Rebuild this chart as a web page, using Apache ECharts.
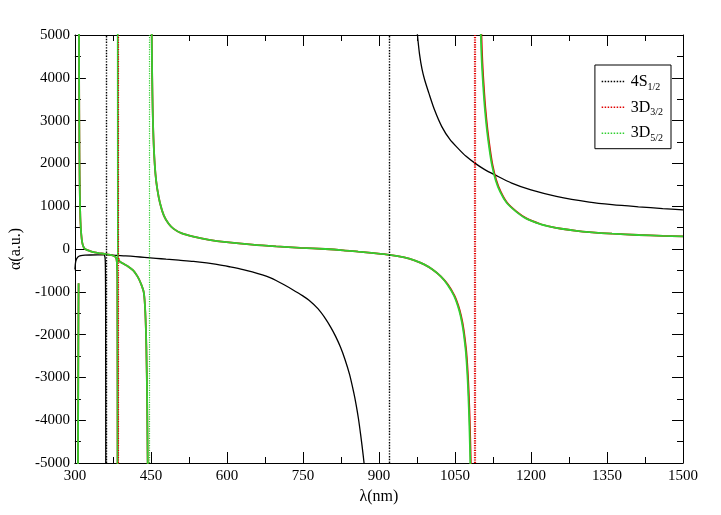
<!DOCTYPE html>
<html><head><meta charset="utf-8">
<script src="https://cdn.jsdelivr.net/npm/echarts@6/dist/echarts.min.js"></script>
<style>html,body{margin:0;padding:0;background:#fff}#c{width:721px;height:515px}</style>
</head><body><div id="c"></div><script>
// ---- data: [lambda (nm), alpha (a.u.)] per branch between poles ----
const xTicks = {min: 300, max: 1500, step: 150};
const yTicks = {min: -5000, max: 5000, step: 1000};
const seriesNames = ['4S1/2', '3D3/2', '3D5/2'];

// 4S1/2
const s12_a = [[300,-480],[300.7,-380],[301.5,-300],[303,-240],[305,-200],[308,-170],[312,-155],[320,-145],[330,-140],[345,-137],[355,-138],[358.5,-148],[360,-300],[360.6,-1200],[361,-6000]];
const s12_b = [[361.5,-130],[370,-140],[385,-150],[400,-160],[420,-178],[437,-195],[460,-218],[480,-238],[505,-262],[534,-290],[560,-325],[580,-360],[605,-415],[632,-480],[650,-535],[670,-605],[685,-670],[697,-735],[712,-830],[729,-945],[749,-1090],[762,-1200],[780,-1400],[794,-1620],[805,-1830],[814,-2030],[824,-2290],[833,-2580],[842,-2930],[850,-3340],[855,-3640],[859.5,-3960],[864,-4350],[869,-4830],[873,-5280],[877,-5850]];
const s12_c = [[974,5300],[976,5000],[980,4560],[985,4200],[990,3960],[998,3660],[1010,3240],[1024,2860],[1040,2560],[1057,2340],[1072,2165],[1090,2000],[1108,1860],[1129,1730],[1162,1540],[1200,1380],[1250,1230],[1315,1095],[1360,1035],[1412,985],[1460,945],[1500,915]];
const s12_poles = [361, 921];

// 3D5/2
const d52_a = [[305.8,-6000],[306.6,-3000],[307.0,-1500],[307.3,-800]];
const d52_b = [[307.8,6000],[308.3,4000],[308.8,2500],[309.3,1700],[310,1100],[311,650],[312.5,350],[314.5,150],[317,50],[320,0],[330,-50],[339,-80],[350,-100],[358.5,-115],[370,-140],[378,-170],[381,-200],[382.8,-300],[383.8,-700],[384.3,-6000]];
const d52_c = [[384.6,6000],[384.8,1500],[385.0,-200],[385.3,-280],[388,-290],[395,-340],[404,-400],[415,-500],[423.5,-640],[430,-800],[436,-1020],[439,-1500],[441,-2300],[442.5,-3500],[443.5,-4800],[444.5,-6000]];
const d52_d = [[450.8,6000],[451.5,5200],[452,4500],[453,3600],[454,3000],[456,2310],[459,1750],[462.6,1400],[468,1070],[475.6,780],[485,590],[495,470],[510,370],[534,290],[565,215],[599,160],[650,100],[697,60],[745,28],[794,0],[830,-30],[859,-62],[890,-95],[921,-135],[950,-195],[970,-265],[989,-360],[1005,-475],[1022,-640],[1035,-830],[1048,-1090],[1056,-1340],[1061,-1560],[1066,-1870],[1071,-2350],[1073,-2650],[1075,-3050],[1076.5,-3450],[1078,-3950],[1079.5,-4600],[1080.5,-5150],[1082,-6200]];
const d52_e = [[1099.5,6000],[1101,5000],[1103,4350],[1106,3750],[1109,3270],[1113,2790],[1118,2330],[1123,1960],[1130,1620],[1139,1340],[1152,1080],[1170,880],[1190,715],[1217,588],[1240,517],[1260,473],[1290,425],[1315,396],[1360,358],[1412,327],[1460,307],[1500,295]];
const d52_poles = [447.6];

// 3D3/2
const d32_a = [[305.8,-6000],[306.6,-3000],[307.0,-1500],[307.3,-800]];
const d32_b = [[307.8,6000],[308.3,4000],[308.8,2500],[309.3,1700],[310,1100],[311,650],[312.5,350],[314.5,150],[317,50],[320,0],[330,-50],[339,-80],[350,-100],[358.5,-115],[370,-140],[378,-170],[381,-200],[382.8,-300],[383.8,-700],[384.3,-6000]];
const d32_c = [[385.8,-210],[388,-290],[395,-340],[404,-400],[415,-500],[423.5,-640],[430,-800],[436,-1020],[439,-1500],[441,-2300],[442.5,-3500],[443.5,-4800],[444.5,-6000]];
const d32_d = [[450.8,6000],[451.5,5200],[452,4500],[453,3600],[454,3000],[456,2310],[459,1750],[462.6,1400],[468,1070],[475.6,780],[485,590],[495,470],[510,370],[534,290],[565,215],[599,160],[650,100],[697,60],[745,28],[794,0],[830,-30],[859,-62],[890,-95],[921,-135],[950,-195],[970,-265],[989,-360],[1005,-475],[1022,-640],[1036,-830],[1049,-1090],[1057,-1340],[1062,-1560],[1067,-1870],[1072,-2350],[1074,-2650],[1076,-3050],[1077.5,-3450],[1079,-3950],[1080.5,-4600],[1081.5,-5150],[1083,-6200]];
const d32_e = [[1100.5,6000],[1102.2,5000],[1104.2,4350],[1107.2,3750],[1110.2,3270],[1114.2,2790],[1119.2,2330],[1124.2,1960],[1131.2,1620],[1140.2,1340],[1153,1080],[1171,880],[1191,715],[1217,590],[1240,518],[1260,473],[1290,425],[1315,396],[1360,358],[1412,327],[1460,307],[1500,295]];
const d32_poles = [385.6, 1088.2, 1090.2];

// ---- chart ----
const FONT = '"Liberation Serif", "Times New Roman", serif';
function join(branches) {
  const out = [];
  branches.forEach((b, i) => { if (i) out.push([b[0][0], '-']); b.forEach(p => out.push(p)); });
  return out;
}
function xAxisDef(pos, labels) {
  return {
    type: 'value', position: pos, min: xTicks.min, max: xTicks.max, interval: xTicks.step,
    axisLine: {show: true, onZero: false, lineStyle: {color: '#000', width: 1}},
    axisTick: {show: true, inside: true, length: 11, lineStyle: {color: '#000', width: 1}},
    minorTick: {show: true, splitNumber: 2, length: 6, lineStyle: {color: '#000', width: 1}},
    splitLine: {show: false}, minorSplitLine: {show: false},
    axisLabel: {show: labels, color: '#000', fontFamily: FONT, fontSize: 15, margin: 6, formatter: v => String(v)},
    name: labels ? 'λ(nm)' : '', nameLocation: 'middle', nameGap: 24,
    nameTextStyle: {color: '#000', fontFamily: FONT, fontSize: 16}
  };
}
function yAxisDef(pos, labels) {
  return {
    type: 'value', position: pos, min: yTicks.min, max: yTicks.max, interval: yTicks.step,
    axisLine: {show: true, onZero: false, lineStyle: {color: '#000', width: 1}},
    axisTick: {show: true, inside: true, length: 11, lineStyle: {color: '#000', width: 1}},
    minorTick: {show: true, splitNumber: 2, length: 6, lineStyle: {color: '#000', width: 1}},
    splitLine: {show: false}, minorSplitLine: {show: false},
    axisLabel: {show: labels, color: '#000', fontFamily: FONT, fontSize: 15, margin: 5, formatter: v => String(v)},
    name: labels ? 'α(a.u.)' : '', nameLocation: 'middle', nameGap: 49, nameRotate: 90,
    nameTextStyle: {color: '#000', fontFamily: FONT, fontSize: 16}
  };
}
function poleLines(poles, color, width) {
  return {
    silent: true, symbol: 'none', animation: false,
    label: {show: false},
    lineStyle: {type: 'dotted', color: color, width: width},
    data: poles.map(p => ({xAxis: p}))
  };
}
function lineSeries(name, data, color, width, poles, pw) {
  return {
    name: name, type: 'line', xAxisIndex: 0, yAxisIndex: 0,
    data: data, symbol: 'none', showSymbol: false, connectNulls: false, clip: true,
    smooth: 0.3,
    lineStyle: {color: color, width: width}, itemStyle: {color: color},
    markLine: poleLines(poles, color, pw)
  };
}
const chart = echarts.init(document.getElementById('c'), null, {renderer: 'canvas'});
chart.setOption({
  animation: false,
  backgroundColor: '#fff',
  grid: {left: 70, right: 38, top: 35, bottom: 52, containLabel: false},
  xAxis: [xAxisDef('bottom', true), xAxisDef('top', false)],
  yAxis: [yAxisDef('left', true), yAxisDef('right', false)],
  legend: {
    orient: 'vertical', right: 50, top: 65,
    padding: [8, 8, 5, 6], itemGap: 7, itemWidth: 24, itemHeight: 21,
    borderColor: '#000', borderWidth: 1, borderRadius: 0, backgroundColor: '#fff',
    lineStyle: {type: 'dotted', width: 1.5},
    itemStyle: {opacity: 0},
    data: seriesNames,
    formatter: n => '{m|' + n.slice(0, 2) + '}{s|' + n.slice(2) + '}',
    textStyle: {
      color: '#000', fontFamily: FONT,
      rich: {
        m: {fontSize: 16, lineHeight: 21, fontFamily: FONT, color: '#000'},
        s: {fontSize: 10, lineHeight: 8, verticalAlign: 'bottom', fontFamily: FONT, color: '#000'}
      }
    }
  },
  series: [
    lineSeries(seriesNames[0], join([s12_a, s12_b, s12_c]), '#000000', 1.3, s12_poles, 1.4),
    lineSeries(seriesNames[1], join([d32_a, d32_b, d32_c, d32_d, d32_e]), '#e00000', 1.8, d32_poles, 1.2),
    lineSeries(seriesNames[2], join([d52_a, d52_b, d52_c, d52_d, d52_e]), '#30d030', 1.8, d52_poles, 1.2)
  ]
});
</script></body></html>
